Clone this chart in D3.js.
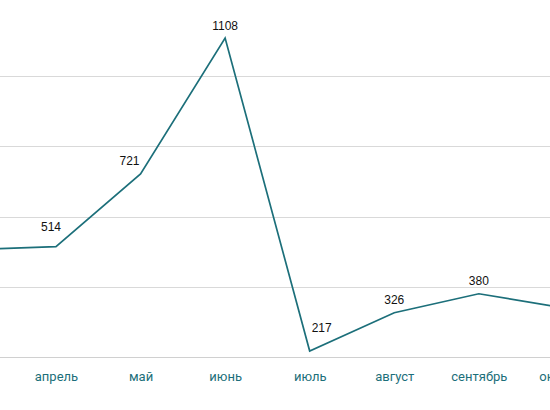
<!DOCTYPE html>
<html>
  <head>
    <meta charset="utf-8">
    <title>Line chart</title>
    <script src="https://cdn.jsdelivr.net/npm/d3@7"></script>
    <style>
      body { margin: 0; background: #fff; }
    </style>
  </head>
  <body>
    <svg width="550" height="410" id="mainsvg"></svg>
    <script>
        // data
        const months = ['март', 'апрель', 'май', 'июнь', 'июль', 'август', 'сентябрь', 'октябрь'];
        const values = [506, 514, 721, 1108, 217, 326, 380, 340];
        const gridTicks = [200, 400, 600, 800, 1000];
        const labelShown = [false, true, true, true, true, true, true, false];

        const svg = d3.select('#mainsvg');
        const width = +svg.attr('width');
        const height = +svg.attr('height');

        // the chart is cropped: first and last month sit outside the frame
        const xScale = d3.scalePoint().domain(months).range([-28.6, 563.4]);
        const yScale = d3.scaleLinear().domain([200, 1200]).range([357, 5.75]);

        const teal = '#1c6f7a';

        // gridlines
        svg.append('g').selectAll('line').data(gridTicks).join('line')
          .attr('x1', 0).attr('x2', width)
          .attr('y1', d => Math.round(yScale(d)) + 0.5)
          .attr('y2', d => Math.round(yScale(d)) + 0.5)
          .attr('stroke', d => d === 200 ? '#d0d0d0' : '#d9d9d9')
          .attr('stroke-width', 1);

        // category axis labels
        const xAxis = d3.axisBottom(xScale).tickSize(0).tickPadding(0);
        const xg = svg.append('g').attr('transform', 'translate(0, 372)').call(xAxis);
        xg.select('.domain').remove();
        xg.selectAll('.tick text')
          .attr('fill', teal)
          .attr('font-family', 'Roboto, sans-serif')
          .attr('font-size', '13px');

        // line
        const line = d3.line()
          .x((d, i) => xScale(months[i]))
          .y(d => yScale(d));
        svg.append('path').datum(values)
          .attr('d', line)
          .attr('fill', 'none')
          .attr('stroke', teal)
          .attr('stroke-width', 1.7)
          .attr('stroke-linejoin', 'miter');

        // data labels, nudged like in the original
        const nudge = {'апрель': -5, 'май': -11, 'июль': 12};
        const lift = {'апрель': 16, 'июль': 19};
        svg.append('g').selectAll('text').data(values.map((v, i) => ({m: months[i], v, show: labelShown[i]})).filter(d => d.show))
          .join('text')
          .attr('x', d => xScale(d.m) + (nudge[d.m] || 0))
          .attr('y', d => yScale(d.v) - (lift[d.m] || 8.5))
          .attr('text-anchor', 'middle')
          .attr('font-family', 'Liberation Sans, Arial, sans-serif')
          .attr('font-size', '12px')
          .attr('fill', '#111')
          .text(d => d.v);
    </script>
  </body>
</html>
